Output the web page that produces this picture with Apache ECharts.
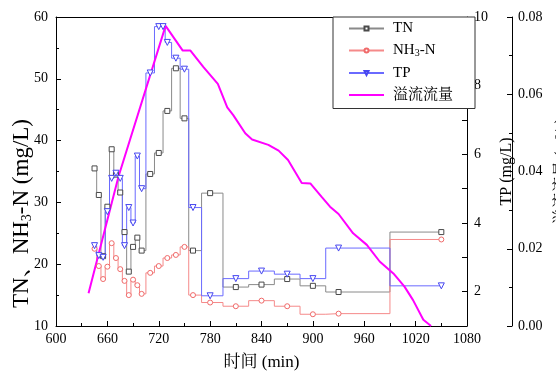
<!DOCTYPE html>
<html>
<head>
<meta charset="utf-8">
<script src="https://cdn.jsdelivr.net/npm/echarts@6/dist/echarts.min.js"></script>
<style>
  html, body { margin: 0; padding: 0; background: #fff; }
  #chart { width: 556px; height: 376px; }
</style>
</head>
<body>
<div id="chart"></div>
<script>
// Sampling times (min) and measured concentrations
const sampleTime = [645, 650, 655, 660, 665, 670, 675, 680, 685, 690, 695, 700,
                    710, 720, 730, 740, 750, 760, 780, 810, 840, 870, 900, 930, 1050];
const tnValue    = [35.5, 31.2, 21.3, 29.3, 38.6, 34.5, 31.6, 25.2, 18.8, 22.8, 24.3, 22.2,
                    34.6, 38.0, 44.8, 51.7, 43.6, 22.2, 31.5, 16.3, 16.7, 17.6, 16.5, 15.5, 25.2];
const nh3Value   = [22.5, 19.7, 17.6, 19.6, 23.4, 21.0, 19.2, 17.3, 15.0, 17.5, 16.6, 15.2,
                    18.6, 19.7, 21.0, 21.5, 22.8, 15.0, 13.8, 13.2, 14.1, 13.2, 11.9, 12.0, 24.0];

// TP has one extra sample at 725 min
const tpTime  = [645, 650, 655, 660, 665, 670, 675, 680, 685, 690, 695, 700,
                 710, 720, 725, 730, 740, 750, 760, 780, 810, 840, 870, 900, 930, 1050];
const tpValue = [3.34, 3.05, 3.0, 4.33, 5.3, 5.45, 5.3, 3.34, 4.45, 4.0, 5.95, 5.0,
                 8.37, 9.72, 9.72, 9.26, 8.8, 8.48, 4.45, 1.88, 2.38, 2.6, 2.51, 2.38, 3.27, 2.17];

// Overflow discharge (m3/s)
const flowTime  = [638, 673, 728, 748, 757, 772, 789, 800, 807, 821, 829, 848, 860, 871,
                   887, 897, 910, 920, 930, 947, 963, 978, 994, 1007, 1017, 1029, 1038];
const flowValue = [0.0085, 0.0387, 0.0777, 0.0713, 0.0713, 0.0671, 0.0627, 0.0566, 0.0546,
                   0.0499, 0.0483, 0.0469, 0.0454, 0.0430, 0.0370, 0.0369, 0.0335, 0.0309,
                   0.0290, 0.0240, 0.0210, 0.0167, 0.0136, 0.0102, 0.0067, 0.0016, 0.0];

const xTicks = { min: 600, max: 1080, interval: 60 };

const pair = (xs, ys) => xs.map((x, i) => [x, ys[i]]);

const FONT = "'Liberation Serif', 'Noto Serif CJK SC', 'Noto Sans CJK SC', serif";

const axisLineStyle = { color: '#000', width: 1 };

const chart = echarts.init(document.getElementById('chart'), null, { renderer: 'canvas' });

chart.setOption({
  animation: false,
  backgroundColor: '#fff',
  textStyle: { fontFamily: FONT, color: '#000' },
  grid: { left: 56, right: 89, top: 17, bottom: 50, containLabel: false, outerBoundsMode: 'none' },
  legend: {
    orient: 'vertical',
    left: 333,
    top: 17,
    padding: [4, 22, 6, 15],
    itemWidth: 35,
    itemHeight: 5,
    itemGap: 7,
    borderColor: '#333',
    borderWidth: 1,
    borderRadius: 0,
    backgroundColor: '#fff',
    data: [
      'TN', 'NH3-N', 'TP',
      { name: '溢流流量', itemStyle: { color: 'rgba(0,0,0,0)', borderColor: 'rgba(0,0,0,0)', borderWidth: 0 } }
    ],
    formatter: name => name === 'NH3-N' ? '{a|NH}{s|3}{a|-N}' : '{a|' + name + '}',
    textStyle: {
      fontFamily: FONT,
      color: '#000',
      padding: [0, 0, 0, 4],
      rich: {
        a: { fontFamily: FONT, fontSize: 15, color: '#000', lineHeight: 14 },
        s: { fontFamily: FONT, fontSize: 10, color: '#000', verticalAlign: 'bottom', padding: [6, 0, 0, 0] }
      }
    }
  },
  xAxis: [
    {
      type: 'value',
      position: 'bottom',
      min: xTicks.min, max: xTicks.max, interval: xTicks.interval,
      name: '时间 (min)',
      nameLocation: 'middle',
      nameGap: 28,
      nameTextStyle: { fontFamily: FONT, fontSize: 17, color: '#000' },
      axisLine: { show: true, lineStyle: axisLineStyle },
      axisTick: { show: true, inside: true, length: 5, lineStyle: axisLineStyle },
      minorTick: { show: true, splitNumber: 2, length: 3, lineStyle: axisLineStyle },
      axisLabel: { fontFamily: FONT, fontSize: 14, color: '#000', margin: 6, formatter: v => String(v) },
      splitLine: { show: false }
    },
    {
      type: 'value',
      position: 'top',
      min: xTicks.min, max: xTicks.max, interval: xTicks.interval,
      axisLine: { show: true, lineStyle: axisLineStyle },
      axisTick: { show: false },
      axisLabel: { show: false },
      splitLine: { show: false }
    }
  ],
  yAxis: [
    {
      type: 'value',
      position: 'left',
      min: 10, max: 60, interval: 10,
      name: '{a|TN、NH}{s|3}{a|-N (mg/L)}',
      nameLocation: 'middle',
      nameRotate: 90,
      nameGap: 22,
      nameMoveOverlap: false,
      nameTextStyle: {
        padding: [0, 84, 0, 0],
        rich: {
          a: { fontFamily: FONT, fontSize: 23, color: '#000' },
          s: { fontFamily: FONT, fontSize: 14, color: '#000', verticalAlign: 'bottom', padding: [10, 0, 0, 0] }
        }
      },
      axisLine: { show: true, lineStyle: axisLineStyle },
      axisTick: { show: true, inside: true, length: 5, lineStyle: axisLineStyle },
      minorTick: { show: true, splitNumber: 2, length: 3, lineStyle: axisLineStyle },
      axisLabel: { fontFamily: FONT, fontSize: 14, color: '#000', margin: 8 },
      splitLine: { show: false }
    },
    {
      type: 'value',
      position: 'right',
      min: 1, max: 10, interval: 1,
      name: 'TP (mg/L)',
      nameLocation: 'middle',
      nameRotate: 90,
      nameGap: 26,
      nameTextStyle: { fontFamily: FONT, fontSize: 16, color: '#000' },
      axisLine: { show: true, lineStyle: axisLineStyle },
      axisTick: { show: true, inside: true, length: 5, lineStyle: axisLineStyle },
      axisLabel: {
        fontFamily: FONT, fontSize: 14, color: '#000', margin: 7,
        formatter: v => (v % 2 === 0 ? String(v) : '')
      },
      splitLine: { show: false }
    },
    {
      type: 'value',
      position: 'right',
      offset: 45,
      min: 0, max: 0.08, interval: 0.02,
      name: '溢流流量 (m³/s)',
      nameLocation: 'middle',
      nameRotate: 90,
      nameGap: 29,
      nameTextStyle: { fontFamily: FONT, fontSize: 16, color: '#000' },
      axisLine: { show: true, lineStyle: axisLineStyle },
      axisTick: { show: true, inside: true, length: 5, lineStyle: axisLineStyle },
      minorTick: { show: true, splitNumber: 2, length: 3, lineStyle: axisLineStyle },
      axisLabel: {
        fontFamily: FONT, fontSize: 14, color: '#000', margin: 6,
        formatter: v => v.toFixed(2)
      },
      splitLine: { show: false }
    }
  ],
  series: [
    {
      name: 'TN',
      type: 'line',
      xAxisIndex: 0, yAxisIndex: 0,
      step: 'middle',
      data: pair(sampleTime, tnValue),
      symbol: 'rect',
      symbolSize: 5,
      showAllSymbol: true,
      lineStyle: { color: '#8a8a8a', width: 1 },
      itemStyle: { color: '#fff', borderColor: '#4a4a4a', borderWidth: 1 }
    },
    {
      name: 'NH3-N',
      type: 'line',
      xAxisIndex: 0, yAxisIndex: 0,
      step: 'middle',
      data: pair(sampleTime, nh3Value),
      symbol: 'circle',
      symbolSize: 5,
      showAllSymbol: true,
      lineStyle: { color: '#f58a8a', width: 1 },
      itemStyle: { color: '#fff', borderColor: '#f06a6a', borderWidth: 1 }
    },
    {
      name: 'TP',
      type: 'line',
      xAxisIndex: 0, yAxisIndex: 1,
      step: 'middle',
      data: pair(tpTime, tpValue),
      symbol: 'triangle',
      symbolRotate: 180,
      symbolSize: 6,
      showAllSymbol: true,
      lineStyle: { color: '#6a6aff', width: 1 },
      itemStyle: { color: '#fff', borderColor: '#4646f0', borderWidth: 1 }
    },
    {
      name: '溢流流量',
      type: 'line',
      xAxisIndex: 0, yAxisIndex: 2,
      data: pair(flowTime, flowValue),
      symbol: 'none',
      lineStyle: { color: '#ff00ff', width: 2 },
      itemStyle: { color: '#ff00ff' }
    }
  ]
});
</script>
</body>
</html>
